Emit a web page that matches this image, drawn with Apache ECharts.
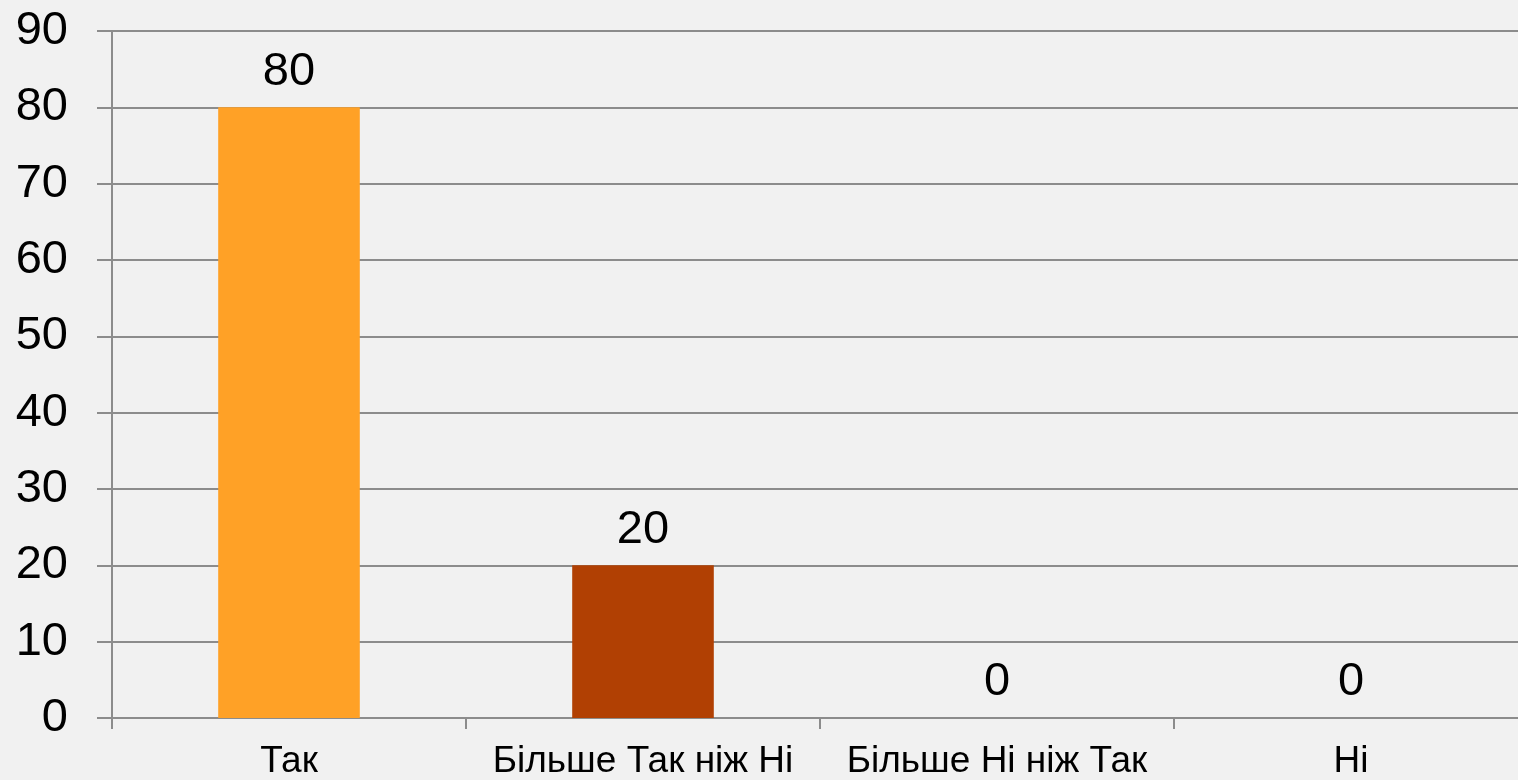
<!DOCTYPE html>
<html>
<head>
<meta charset="utf-8">
<script src="https://cdn.jsdelivr.net/npm/echarts@6/dist/echarts.min.js"></script>
<style>
  html, body { margin: 0; padding: 0; background: #f1f1f1; }
  #chart { width: 1518px; height: 780px; }
</style>
</head>
<body>
<div id="chart"></div>
<script>
// categories and values
const categories = ['Так', 'Більше Так ніж Ні', 'Більше Ні ніж Так', 'Ні']
const values = [80, 20, 0, 0]
const barColors = ['#ffa126', '#b14003', '#b14003', '#b14003']

const chart = echarts.init(document.getElementById('chart'))

chart.setOption({
  backgroundColor: '#f1f1f1',
  animation: false,
  textStyle: { fontFamily: 'Liberation Sans, Arial, sans-serif' },
  // the plot runs a little past the right edge of the picture
  grid: { left: 112, width: 1416, top: 31, bottom: 62, containLabel: false, outerBoundsMode: 'none' },
  xAxis: {
    type: 'category',
    data: categories,
    axisLine: { lineStyle: { color: '#8c8c8c', width: 2 } },
    axisTick: { show: true, length: 11, lineStyle: { color: '#8c8c8c', width: 2 } },
    axisLabel: { color: '#000', fontSize: 37, margin: 25, interval: 0 }
  },
  yAxis: {
    type: 'value',
    min: 0,
    max: 90,
    interval: 10,
    axisLine: { show: true, lineStyle: { color: '#8c8c8c', width: 2 } },
    axisTick: { show: true, length: 15, lineStyle: { color: '#8c8c8c', width: 2 } },
    axisLabel: { color: '#000', fontSize: 47, margin: 44 },
    splitLine: { lineStyle: { color: '#8c8c8c', width: 2 } }
  },
  series: [{
    type: 'bar',
    barWidth: '40%',
    data: values.map((v, i) => ({ value: v, itemStyle: { color: barColors[i] } })),
    label: {
      show: true,
      position: 'top',
      distance: 12,
      color: '#000',
      fontSize: 47
    }
  }]
})
</script>
</body>
</html>
